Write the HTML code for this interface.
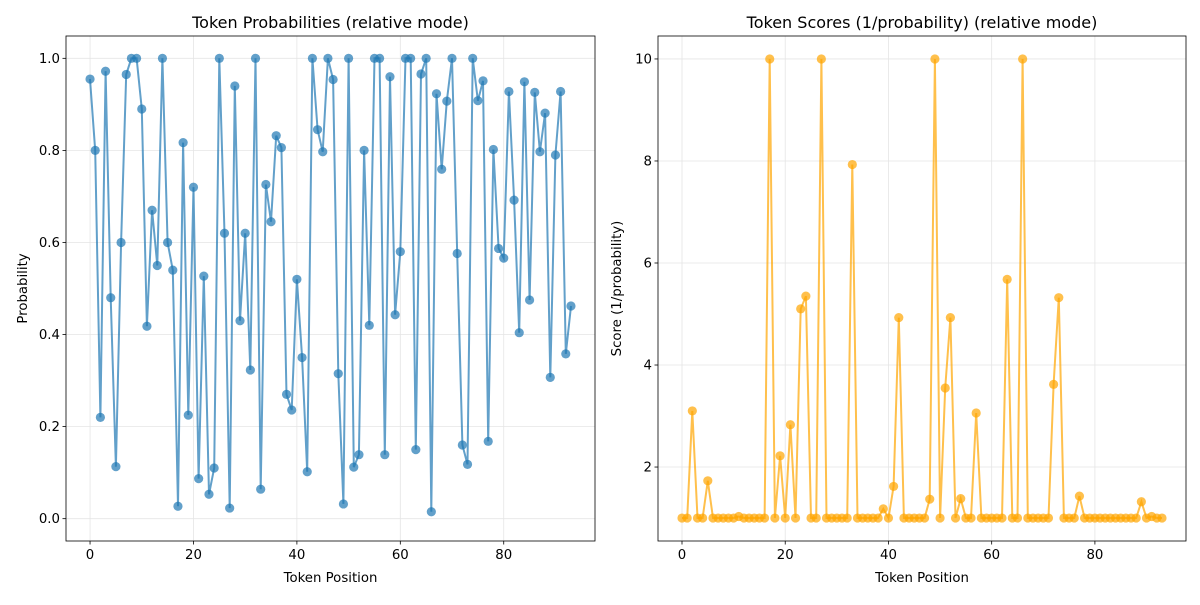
<!DOCTYPE html>
<html><head><meta charset="utf-8"><style>
body{margin:0;background:#fff;font-family:"Liberation Sans","DejaVu Sans",sans-serif}
svg text{font-family:"DejaVu Sans","Liberation Sans",sans-serif}
</style></head><body>
<svg id="chart" width="1200" height="600" xmlns="http://www.w3.org/2000/svg"></svg>
<script>
const probabilities = [0.955,0.80,0.22,0.972,0.48,0.113,0.60,0.965,1.0,1.0,0.89,0.418,0.67,0.55,1.0,0.60,0.54,0.027,0.817,0.225,0.72,0.087,0.527,0.053,0.11,1.0,0.62,0.023,0.94,0.43,0.62,0.323,1.0,0.064,0.726,0.645,0.832,0.806,0.27,0.236,0.52,0.35,0.102,1.0,0.845,0.797,1.0,0.954,0.315,0.032,1.0,0.112,0.139,0.80,0.42,1.0,1.0,0.139,0.96,0.443,0.58,1.0,1.0,0.15,0.966,1.0,0.015,0.923,0.759,0.907,1.0,0.576,0.16,0.118,1.0,0.908,0.951,0.168,0.802,0.587,0.566,0.928,0.692,0.404,0.949,0.475,0.926,0.797,0.881,0.307,0.79,0.928,0.358,0.462];
const scoreIdx = [2,5,11,17,19,21,23,24,27,33,39,41,42,48,49,51,52,54,57,63,66,72,73,77,89,91];
const scoreVal = [3.1,1.73,1.03,10,2.22,2.83,5.1,5.35,10,7.93,1.18,1.62,4.93,1.37,10,3.55,4.93,1.38,3.06,5.68,10,3.62,5.32,1.43,1.32,1.03];
const scores = probabilities.map(()=>1);
scoreIdx.forEach((k,j)=>{scores[k]=scoreVal[j];});
const xTicks=[0,20,40,60,80];
const yTicksL=[0.0,0.2,0.4,0.6,0.8,1.0];
const yTicksR=[2,4,6,8,10];

const svg=document.getElementById('chart');
const NS='http://www.w3.org/2000/svg';
function mk(t,a,p){const e=document.createElementNS(NS,t);for(const k in a)e.setAttribute(k,a[k]);(p||svg).appendChild(e);return e;}

function panel(cfg){
  const g=mk('g',{});
  
  
  const {x0,x1,y0,y1}=cfg;
  const n=cfg.data.length;
  const xmin=-0.05*(n-1), xmax=(n-1)*1.05;
  const sx=v=>x0+(v-xmin)/(xmax-xmin)*(x1-x0);
  const sy=v=>y1-(v-cfg.ymin)/(cfg.ymax-cfg.ymin)*(y1-y0);
  xTicks.forEach(t=>{mk('line',{x1:sx(t),x2:sx(t),y1:y0,y2:y1,stroke:'#e5e5e5','stroke-width':0.8},g);});
  cfg.yt.forEach(t=>{mk('line',{x1:x0,x2:x1,y1:sy(t),y2:sy(t),stroke:'#e5e5e5','stroke-width':0.8},g);});
  const pts=cfg.data.map((v,i)=>sx(i).toFixed(1)+','+sy(v).toFixed(1)).join(' ');
  const line=mk('polyline',{points:pts,fill:'none',stroke:cfg.color,'stroke-width':2,'stroke-opacity':0.7},g);
  
  
  cfg.data.forEach((v,i)=>{
    const c=mk('circle',{cx:sx(i),cy:sy(v),r:4.6,fill:cfg.color,'fill-opacity':0.7},g);
    
    
  });
  mk('rect',{x:x0,y:y0,width:x1-x0,height:y1-y0,fill:'none',stroke:'#000','stroke-width':0.8},g);
  xTicks.forEach(t=>{
    mk('line',{x1:sx(t),x2:sx(t),y1:y1,y2:y1+3.5,stroke:'#000','stroke-width':0.8},g);
    const tx=mk('text',{x:sx(t),y:y1+18,'text-anchor':'middle','font-size':13.3,fill:'#000'},g);tx.textContent=t;
  });
  cfg.yt.forEach(t=>{
    mk('line',{x1:x0-3.5,x2:x0,y1:sy(t),y2:sy(t),stroke:'#000','stroke-width':0.8},g);
    const tx=mk('text',{x:x0-6,y:sy(t)+4.5,'text-anchor':'end','font-size':13.3,fill:'#000'},g);tx.textContent=cfg.fmt(t);
  });
  const ti=mk('text',{x:(x0+x1)/2,y:y0-8,'text-anchor':'middle','font-size':16,fill:'#000'},g);ti.textContent=cfg.title;
  
  const xl=mk('text',{x:(x0+x1)/2,y:y1+41,'text-anchor':'middle','font-size':13.3,fill:'#000'},g);xl.textContent='Token Position';
  
  const yx=cfg.ylx, yy=(y0+y1)/2;
  const yl=mk('text',{x:yx,y:yy,'text-anchor':'middle','font-size':13.3,fill:'#000',transform:`rotate(-90 ${yx} ${yy})`},g);yl.textContent=cfg.ylabel;
  
}
panel({name:'probability-chart',x0:66,x1:595,y0:36,y1:541,data:probabilities,ymin:-0.0485,ymax:1.0485,yt:yTicksL,fmt:t=>t.toFixed(1),color:'#1f77b4',title:'Token Probabilities (relative mode)',ylabel:'Probability',ylx:27});
panel({name:'score-chart',x0:658,x1:1186,y0:36,y1:541,data:scores,ymin:0.55,ymax:10.45,yt:yTicksR,fmt:t=>t,color:'#ffa500',title:'Token Scores (1/probability) (relative mode)',ylabel:'Score (1/probability)',ylx:621});
</script>
</body></html>
